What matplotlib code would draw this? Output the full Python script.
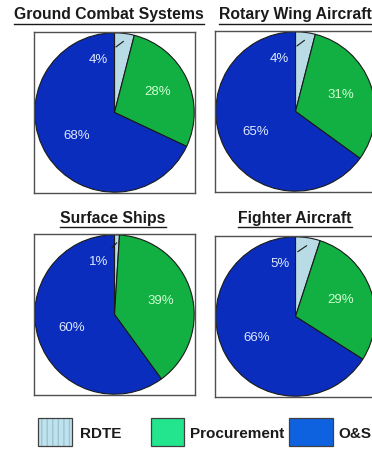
import numpy as np
import matplotlib
matplotlib.use("Agg")
import matplotlib.pyplot as plt
from matplotlib.patches import Rectangle
from matplotlib.lines import Line2D

plt.rcParams['font.family'] = ['Liberation Sans', 'DejaVu Sans']

# cost shares per system, in percent: RDTE, Procurement, O&S
systems = ["Ground Combat Systems", "Rotary Wing Aircraft", "Surface Ships", "Fighter Aircraft"]
rdte = [4, 4, 1, 5]
procurement = [28, 31, 39, 29]
ons = [68, 65, 60, 66]
categories = ["RDTE", "Procurement", "O&S"]

pie_colors = ["#b9dbe6", "#12b043", "#0a2dbd"]
legend_colors = ["#bfe3ee", "#22e58e", "#0e62e0"]
text_colors = ["#dde8ff", "#cfffd0", "#dde8ff"]

W, H = 372, 449
fig = plt.figure(figsize=(W / 100, H / 100), dpi=100)

# box positions in pixels: left, top, size
boxes = [(34, 32, 161), (215, 31, 161), (34, 234, 161), (215, 236, 161)]
title_pos = [(109, 15), (295, 15), (113, 218), (295, 218)]


def px_axes(left, top, w, h):
    return fig.add_axes([left / W, 1 - (top + h) / H, w / W, h / H])


renderer = fig.canvas.get_renderer()

for i, name in enumerate(systems):
    left, top, size = boxes[i]
    ax = px_axes(left, top, size, size)
    vals = [rdte[i], procurement[i], ons[i]]
    wedges, _ = ax.pie(vals, colors=pie_colors, startangle=90, counterclock=False,
                       radius=1.0, wedgeprops=dict(edgecolor="#1a1a1a", linewidth=0.8))
    ax.set_xlim(-1.01, 1.01)
    ax.set_ylim(-1.01, 1.01)
    ax.set_aspect("auto")
    ax.set_frame_on(True)
    for s in ax.spines.values():
        s.set_visible(True)
        s.set_color("#505050")
        s.set_linewidth(1.0)
    ax.set_xticks([])
    ax.set_yticks([])

    # labels for the two large wedges
    for k in (1, 2):
        w = wedges[k]
        ang = np.deg2rad((w.theta1 + w.theta2) / 2)
        r = 0.6 if k == 1 else 0.56
        ax.text(r * np.cos(ang), r * np.sin(ang), f"{vals[k]}%", ha="center", va="center",
                fontsize=9.5, color=text_colors[k])

    # RDTE label sits on the O&S wedge with a leader line
    w = wedges[0]
    ang = np.deg2rad((w.theta1 + w.theta2) / 2)
    ax.annotate(f"{vals[0]}%", xy=(0.9 * np.cos(ang), 0.9 * np.sin(ang)), xytext=(-0.2, 0.66),
                ha="center", va="center", fontsize=9.5, color=text_colors[0],
                arrowprops=dict(arrowstyle="-", color="#1a1a1a", lw=0.8,
                                shrinkA=5, shrinkB=0))

    tx, ty = title_pos[i]
    t = fig.text(tx / W, 1 - ty / H, name, ha="center", va="center",
                 fontsize=11.3, fontweight="bold", color="#1a1a1a")
    bb = t.get_window_extent(renderer).transformed(fig.transFigure.inverted())
    fig.add_artist(Line2D([bb.x0, bb.x1], [bb.y0 - 0.003, bb.y0 - 0.003],
                          transform=fig.transFigure, color="#1a1a1a", lw=1.0))

# legend row
leg = fig.add_axes([0, 0, 1, 1], facecolor="none")
leg.set_xlim(0, W)
leg.set_ylim(H, 0)
leg.axis("off")
swatches = [(38, 418, 34, 28), (151, 418, 33, 28), (289, 418, 44, 28)]
text_x = [80, 190, 338]
for k, cat in enumerate(categories):
    x, y, w, h = swatches[k]
    if k == 0:
        # faint vertical hatching on the RDTE swatch
        leg.add_patch(Rectangle((x, y), w, h, facecolor=legend_colors[k],
                                edgecolor="#9cc4d2", lw=0, hatch="|||"))
        leg.add_patch(Rectangle((x, y), w, h, facecolor="none", edgecolor="#404040", lw=0.9))
    else:
        leg.add_patch(Rectangle((x, y), w, h, facecolor=legend_colors[k],
                                edgecolor="#404040", lw=0.9))
    leg.text(text_x[k], 434, cat, ha="left", va="center", fontsize=11, fontweight="bold",
             color="#1a1a1a")

fig.savefig("out.png", dpi=100)
